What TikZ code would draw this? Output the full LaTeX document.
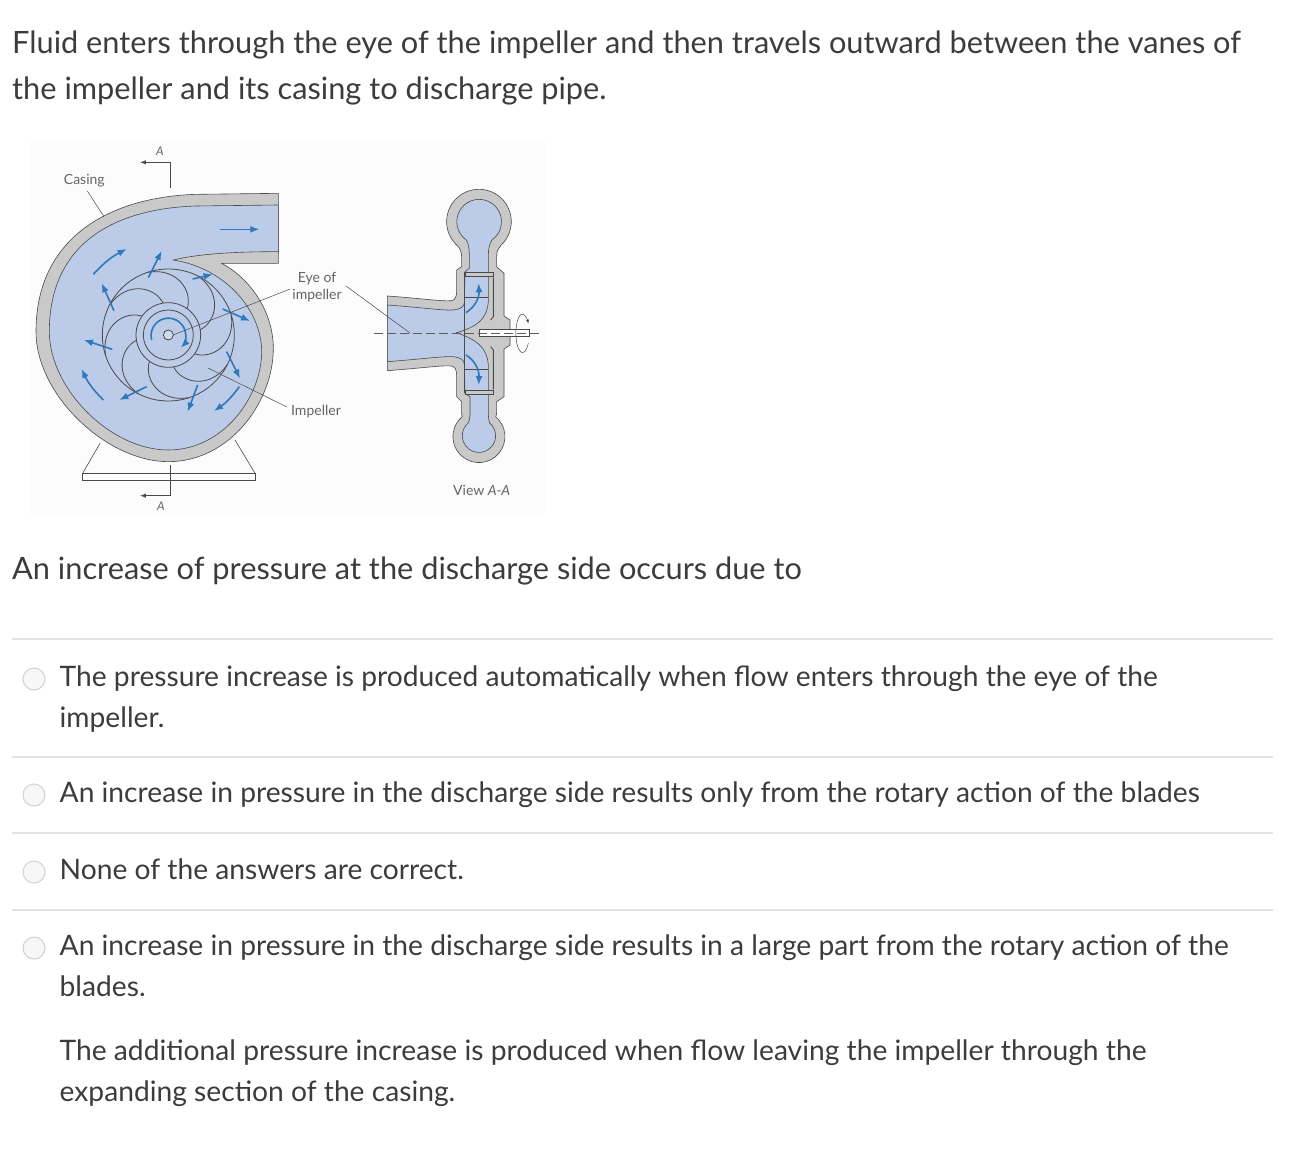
\documentclass[tikz,border=0pt]{standalone}
\usepackage{fontspec}
\setmainfont{Lato}
\usepackage{xcolor}
\usepackage{tikz}
\usetikzlibrary{arrows.meta, positioning, calc}

\definecolor{fluidblue}{HTML}{BBCBE8}
\definecolor{casegray}{HTML}{C9C9C9}
\definecolor{flowblue}{HTML}{2F78BC}
\definecolor{inkgray}{HTML}{4A4A4A}
\definecolor{rulegray}{HTML}{E2E2E2}
\definecolor{textgray}{HTML}{3C3C3C}

\tikzset{
  question/.style={anchor=north west, inner sep=0pt, align=left, text=textgray, font=\fontsize{30.75}{46}\selectfont},
  answer/.style={anchor=north west, inner sep=0pt, align=left, text=textgray, font=\fontsize{28.2}{41}\selectfont},
  radio/.style={circle, draw=black!18, fill=black!3, line width=1pt, minimum size=22pt, inner sep=0pt},
  figlabel/.style={inner sep=0pt, align=center, text=inkgray!85, font=\fontsize{14}{17}\selectfont},
  flow/.style={-{Latex[length=9pt,width=7pt]}, draw=flowblue, line width=1.6pt},
  outline/.style={draw=inkgray, line width=0.6pt},
  leader/.style={draw=inkgray, line width=0.5pt}
}

\begin{document}
\begin{tikzpicture}[x=1pt, y=-1pt]
\useasboundingbox (0,0) rectangle (1300,1150);

\node (intro)[question] at (12,31) {Fluid enters through the eye of the impeller and then travels outward between the vanes of\\the impeller and its casing to discharge pipe.};
\node (ask)[question] at (12,557) {An increase of pressure at the discharge side occurs due to};

% answers
\draw[rulegray, line width=2pt] (12,639) -- (1273,639);
\draw[rulegray, line width=2pt] (12,757) -- (1273,757);
\draw[rulegray, line width=2pt] (12,833) -- (1273,833);
\draw[rulegray, line width=2pt] (12,910) -- (1273,910);

\node (radioA)[radio] at (34,679) {};
\node (radioB)[radio] at (34,795) {};
\node (radioC)[radio] at (34,872) {};
\node (radioD)[radio] at (34,948) {};

\node (answerA)[answer] at (59.5,666) {The pressure increase is produced automatically when flow enters through the eye of the\\impeller.};
\node (answerB)[answer] at (59.5,782) {An increase in pressure in the discharge side results only from the rotary action of the blades};
\node (answerC)[answer] at (59.5,859) {None of the answers are correct.};
\node (answerD)[answer] at (59.5,935) {An increase in pressure in the discharge side results in a large part from the rotary action of the\\blades.};
\node (answerE)[answer] at (59.5,1040) {The additional pressure increase is produced when flow leaving the impeller through the\\expanding section of the casing.};

% figure background
\fill[black!1] (30,140) rectangle (545,515);

% front view
\begin{scope}[shift={(30,135)}, scale=1/3]
\draw[outline] (210,925) -- (158,1015);
\draw[outline] (615,915) -- (675,1015);
\draw[outline, fill=white] (158,1015) rectangle (675,1035);

\draw[outline, fill=casegray] (745,175) -- (500,178) .. controls (250,185) and (18,300) .. (18,590) .. controls (18,780) and (230,980) .. (415,980) .. controls (600,980) and (730,800) .. (730,640) .. controls (730,530) and (660,430) .. (575,385) -- (745,385) -- cycle;
\draw[outline, fill=fluidblue] (745,210) -- (500,213) .. controls (260,220) and (58,320) .. (58,590) .. controls (58,760) and (240,945) .. (415,945) .. controls (580,945) and (695,785) .. (695,650) .. controls (695,530) and (590,400) .. (430,375) .. controls (500,358) and (600,350) .. (745,350) -- cycle;

% impeller
\begin{scope}[shift={(415,600)}]
\draw[outline, line width=0.8pt] (0,0) circle (198);
\foreach \a in {0,45,...,315}
  \draw[outline, line width=0.8pt] (\a+36:95) .. controls (\a+30:150) and (\a+8:205) .. (\a-18:198);
\draw[outline, line width=0.8pt, fill=fluidblue] (0,0) circle (97);
\draw[outline, line width=0.8pt] (0,0) circle (75);
\draw[outline, line width=0.8pt, fill=white!30!fluidblue] (0,0) circle (15);
\draw[flow] (-50,15) arc[start angle=165, end angle=405, radius=52];
\end{scope}

% flow arrows
\draw[flow] (190,418) to[bend left=10] (290,342);
\draw[flow] (355,428) -- (395,348);
\draw[flow] (488,432) -- (548,418);
\draw[flow] (578,522) -- (660,558);
\draw[flow] (590,650) -- (630,730);
\draw[flow] (628,755) to[bend left=10] (552,828);
\draw[flow] (503,750) -- (473,830);
\draw[flow] (350,755) -- (268,795);
\draw[flow] (247,643) -- (162,615);
\draw[flow] (220,795) to[bend left=10] (155,702);
\draw[flow] (252,527) -- (215,445);
\draw[flow] (570,283) -- (688,283);

% section marks
\coordinate (cuttop) at (420,160);
\coordinate (cuttopend) at (330,82);
\coordinate (cutbot) at (420,990);
\coordinate (cutbotend) at (330,1082);
\draw[-{Latex[length=6pt,width=4.5pt]}, outline, line width=0.9pt] (cuttop) |- (cuttopend);
\draw[-{Latex[length=6pt,width=4.5pt]}, outline, line width=0.9pt] (cutbot) |- (cutbotend);

\node (casinglabel)[figlabel] at (163,137) {Casing};
\node (sectop)[figlabel, font=\fontsize{12}{12}\selectfont\itshape] at (390,50) {A};
\node (secbot)[figlabel, font=\fontsize{12}{12}\selectfont\itshape] at (393,1115) {A};
\coordinate (casingend) at (222,245);
\draw[leader] (172,168) -- (casingend);
\end{scope}

% side view
\begin{scope}[shift={(280,170)}, scale=1/3]
\draw[outline, fill=casegray] (322,378) .. controls (420,385) and (490,395) .. (515,392) .. controls (525,390) and (530,380) .. (530,365) -- (530,300) -- (545,290) -- (545,260) .. controls (545,245) and (540,235) .. (532,227) arc[start angle=132, end angle=408, radius=97] .. controls (654,235) and (650,245) .. (650,260) -- (650,290) -- (672,310) -- (672,438) -- (690,450) -- (690,525) -- (672,537) -- (672,680) -- (650,695) -- (650,725) .. controls (650,732) and (649,736) .. (647,740) arc[start angle=-50, end angle=230, radius=78] .. controls (545,736) and (545,732) .. (545,725) -- (545,695) -- (530,680) -- (530,615) .. controls (530,600) and (525,590) .. (515,588) .. controls (490,585) and (420,595) .. (322,602) -- cycle;
\draw[outline, fill=fluidblue] (322,405) .. controls (420,412) and (490,422) .. (520,420) .. controls (540,418) and (553,410) .. (553,398) -- (555,305) -- (568,295) -- (568,255) .. controls (568,235) and (565,220) .. (559,210) arc[start angle=125, end angle=415, radius=67] .. controls (629,220) and (625,235) .. (625,255) -- (625,395) .. controls (620,450) and (590,470) .. (530,488) .. controls (590,510) and (620,530) .. (625,585) -- (625,735) .. controls (625,745) and (627,752) .. (629,759) arc[start angle=-50, end angle=230, radius=50] .. controls (567,752) and (570,745) .. (570,735) -- (570,680) -- (555,670) -- (553,582) .. controls (553,570) and (540,562) .. (520,560) .. controls (490,558) and (420,568) .. (322,575) -- cycle;

\draw[outline, fill=casegray] (555,307) rectangle (640,320);
\draw[outline, fill=casegray] (555,660) rectangle (640,672);
\draw[outline] (553,307) -- (553,670);
\draw[outline] (553,382) -- (625,382);
\draw[outline] (553,598) -- (625,598);
\draw[outline, line width=0.9pt] (640,322) -- (640,440) -- (632,450);
\draw[outline, line width=0.9pt] (640,658) -- (640,540) -- (632,530);
\draw[outline, fill=white] (597,477) rectangle (748,500);

\coordinate (axisL) at (282,490);
\coordinate (axisR) at (782,490);
\draw[inkgray!90, line width=0.8pt, dash pattern=on 9pt off 4pt] (axisL) -- (axisR);

\draw[flow] (558,428) .. controls (585,410) and (598,385) .. (596,340);
\draw[flow] (558,555) .. controls (585,572) and (598,600) .. (596,645);
\draw[-{Latex[length=4pt,width=3pt]}, inkgray, line width=0.5pt] (745,519) arc[start angle=30, end angle=330, x radius=20, y radius=58];

\node (viewlabel)[figlabel] at (605,960) {View \textit{A-A}};
\end{scope}

% labels with leaders
\node (eyelabel)[figlabel] at (317,287) {Eye of\\impeller};
\node (implabel)[figlabel] at (316,412) {Impeller};
\coordinate (eyefront) at (173,335);
\coordinate (eyeside) at (410,333);
\coordinate (impfront) at (208,368);
\draw[leader] (eyelabel.west) ++(-2,2) -- (eyefront);
\draw[leader] (implabel.west) ++(-4,-5) -- (impfront);
\draw[leader] (346,286) -- (eyeside);

\end{tikzpicture}
\end{document}
